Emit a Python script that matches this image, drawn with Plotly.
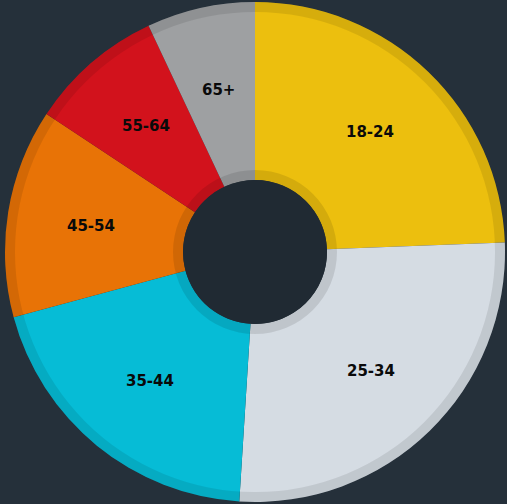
import math
import plotly.graph_objects as go

labels = ["18-24", "25-34", "35-44", "45-54", "55-64", "65+"]
values = [24.4, 26.6, 19.8, 13.5, 8.7, 7.0]
colors = ["#ecbf0e", "#d5dce3", "#06bcd6", "#e87306", "#d2121c", "#9ea0a2"]

W, H = 507, 504
CX, CY = 255, 252
R_OUT = 250
R_HOLE = 72
R_INNER_RING = 82
RING_W = 10
R_LABEL = 166
BG = "#25303a"
HOLE = "#202a33"


def dom(r):
    return dict(x=[(CX - r) / W, (CX + r) / W], y=[(H - CY - r) / H, (H - CY + r) / H])


fig = go.Figure()
fig.add_trace(go.Pie(
    labels=labels, values=values, sort=False, direction="clockwise", rotation=0,
    marker=dict(colors=colors, line=dict(width=0)),
    hole=R_HOLE / R_OUT, domain=dom(R_OUT),
    textinfo="none",
    showlegend=False, hoverinfo="label+percent",
))
# outer shading ring
fig.add_trace(go.Pie(
    values=[1], marker=dict(colors=["rgba(0,0,0,0.09)"], line=dict(width=0)),
    hole=(R_OUT - RING_W) / R_OUT, domain=dom(R_OUT),
    textinfo="none", hoverinfo="skip", showlegend=False, sort=False,
))
# inner shading ring
fig.add_trace(go.Pie(
    values=[1], marker=dict(colors=["rgba(0,0,0,0.1)"], line=dict(width=0)),
    hole=R_HOLE / R_INNER_RING, domain=dom(R_INNER_RING),
    textinfo="none", hoverinfo="skip", showlegend=False, sort=False,
))
# dark centre disc
fig.add_trace(go.Pie(
    values=[1], marker=dict(colors=[HOLE], line=dict(width=0)),
    hole=0, domain=dom(R_HOLE),
    textinfo="none", hoverinfo="skip", showlegend=False, sort=False,
))

# slice labels at the mid-angle of each slice
total = sum(values)
cum = 0.0
for lab, v in zip(labels, values):
    mid = (cum + v / 2) / total * 2 * math.pi
    cum += v
    px = CX + R_LABEL * math.sin(mid)
    py = CY - R_LABEL * math.cos(mid)
    fig.add_annotation(
        x=px / W, y=1 - py / H, xref="paper", yref="paper",
        text=lab, showarrow=False, xanchor="center", yanchor="middle",
        font=dict(family="DejaVu Sans", size=15, color="#0a0a0a", weight="bold"),
    )

fig.update_layout(
    width=W, height=H, margin=dict(l=0, r=0, t=0, b=0),
    paper_bgcolor=BG, plot_bgcolor=BG, showlegend=False,
)
fig.write_html(
    "out.html",
    config={"displayModeBar": False},
    post_script="document.body.style.margin='0';document.body.style.background='" + BG + "';",
)
